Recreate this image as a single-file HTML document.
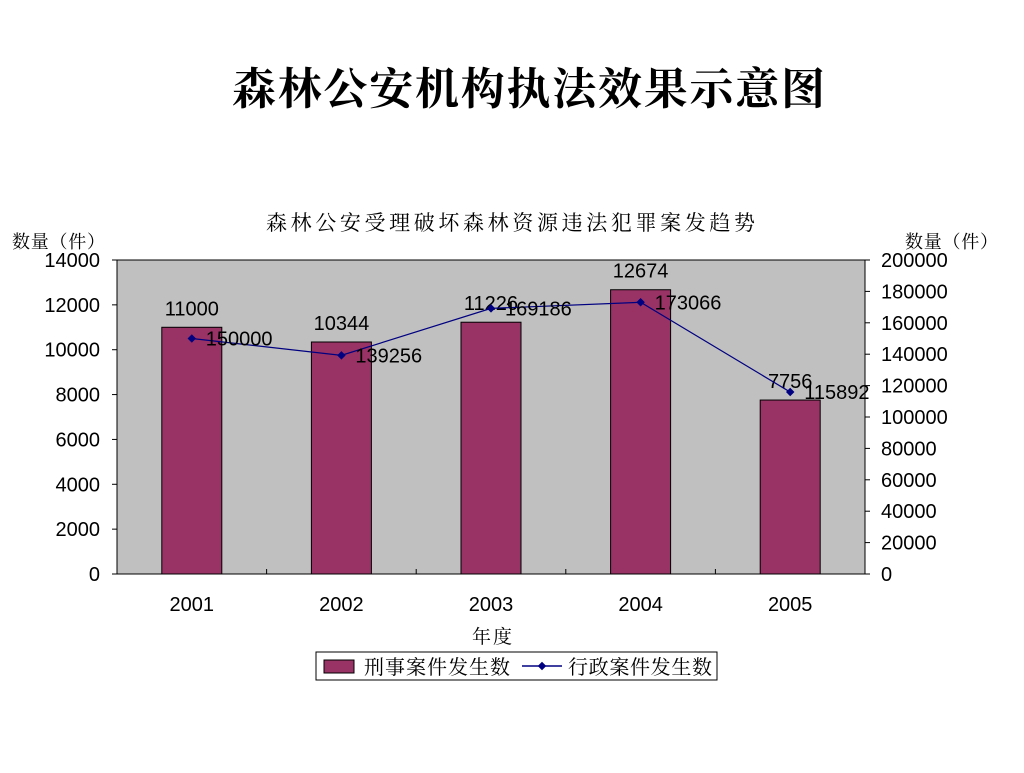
<!DOCTYPE html>
<html><head><meta charset="utf-8"><style>
body{margin:0;background:#fff;width:1024px;height:768px;overflow:hidden;font-family:"Liberation Sans","Noto Sans CJK SC",sans-serif}
</style></head><body>
<svg id="c" width="1024" height="768" xmlns="http://www.w3.org/2000/svg" font-family="Liberation Sans, Noto Sans CJK SC, sans-serif">
<text x="232" y="104" font-size="44" textLength="593" lengthAdjust="spacing" font-family="Noto Serif CJK SC, serif" font-weight="bold">森林公安机构执法效果示意图</text>
<text x="266" y="230" font-size="21" textLength="489" lengthAdjust="spacing" font-family="Noto Serif CJK SC, serif">森林公安受理破坏森林资源违法犯罪案发趋势</text>
<text x="12" y="248" font-size="18" textLength="93" lengthAdjust="spacing" font-family="Noto Serif CJK SC, serif">数量（件）</text>
<text x="905" y="248" font-size="18" textLength="93" lengthAdjust="spacing" font-family="Noto Serif CJK SC, serif">数量（件）</text>
<rect x="117" y="260" width="748" height="314" fill="#c0c0c0" stroke="#000" stroke-width="1"/>
<g id="g"></g>
<text x="472" y="643" font-size="19" textLength="40" font-family="Noto Serif CJK SC, serif">年度</text>
<g>
<rect x="316" y="652" width="401" height="28" fill="#fff" stroke="#000"/>
<rect x="324" y="660" width="30" height="13" fill="#993366" stroke="#000"/>
<text x="364" y="674" font-size="20" textLength="146" lengthAdjust="spacing" font-family="Noto Serif CJK SC, serif">刑事案件发生数</text>
<line x1="522" y1="666" x2="562" y2="666" stroke="#000080" stroke-width="1.5"/>
<rect x="539" y="663" width="6" height="6" fill="#000080" transform="rotate(45 542 666)"/>
<text x="568" y="674" font-size="20" textLength="144" lengthAdjust="spacing" font-family="Noto Serif CJK SC, serif">行政案件发生数</text>
</g>
</svg>
<script>
const categories=["2001","2002","2003","2004","2005"];
const criminalCases=[11000,10344,11226,12674,7756];
const adminCases=[150000,139256,169186,173066,115892];
const leftTicks=[0,2000,4000,6000,8000,10000,12000,14000];
const rightTicks=[0,20000,40000,60000,80000,100000,120000,140000,160000,180000,200000];
const L=117,R=865,T=260,B=574,NS="http://www.w3.org/2000/svg";
const g=document.getElementById('g');
const yL=v=>B-v/14000*(B-T), yR=v=>B-v/200000*(B-T);
const bw=(R-L)/categories.length, xc=i=>L+bw*(i+0.5);
function mk(t,a,txt){const e=document.createElementNS(NS,t);for(const k in a)e.setAttribute(k,a[k]);if(txt!=null)e.textContent=txt;g.appendChild(e);return e;}
leftTicks.forEach(v=>{const y=yL(v);mk('line',{x1:L-5,y1:y,x2:L,y2:y,stroke:'#000'});
const t=mk('text',{x:L-17,y:y+7,'font-size':20,'text-anchor':'end'},v);

});
rightTicks.forEach(v=>{const y=yR(v);mk('line',{x1:R,y1:y,x2:R+5,y2:y,stroke:'#000'});
const t=mk('text',{x:881,y:y+7,'font-size':20},v);

});
for(let i=0;i<=categories.length;i++){const x=L+bw*i;mk('line',{x1:x,y1:B,x2:x,y2:B-5,stroke:'#000'});}
categories.forEach((c,i)=>{
const y=yL(criminalCases[i]);
const r=mk('rect',{x:xc(i)-30,y:y,width:60,height:B-y,fill:'#993366',stroke:'#000'});


const t=mk('text',{x:xc(i),y:y-12,'font-size':20,'text-anchor':'middle'},criminalCases[i]);


const xl=mk('text',{x:xc(i),y:611,'font-size':20,'text-anchor':'middle'},c);


});
const pts=adminCases.map((v,i)=>xc(i)+','+yR(v)).join(' ');
const pl=mk('polyline',{points:pts,fill:'none',stroke:'#000080','stroke-width':1.2});


adminCases.forEach((v,i)=>{const x=xc(i),y=yR(v);
const p=mk('rect',{x:x-3,y:y-3,width:6,height:6,fill:'#000080',transform:`rotate(45 ${x} ${y})`});


const t=mk('text',{x:x+14,y:y+7,'font-size':20},v);

});
mk('line',{x1:L,y1:T,x2:L,y2:B,stroke:'#000'});
</script>
</body></html>
